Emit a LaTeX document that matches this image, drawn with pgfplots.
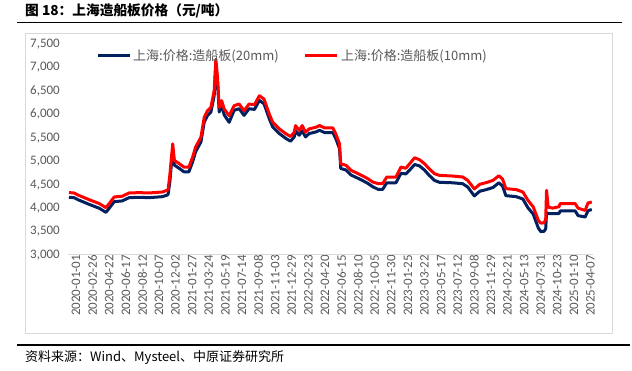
\documentclass[border=0pt]{standalone}
\usepackage{pgfplots}
\pgfplotsset{compat=1.18}
\usepackage{pgfplotstable}
\usepackage{fontspec}
\setmainfont{Carlito}
\newfontfamily\cjk{Noto Sans CJK SC}
\definecolor{navy}{HTML}{002060}
\definecolor{myred}{HTML}{FF0000}
\definecolor{txtgrey}{HTML}{595959}
\definecolor{framegrey}{HTML}{D9D9D9}

\pgfplotstableread{
idx val
0 4331
12 4323
23 4274
48 4182
73 4097
89 4010
97 4097
109 4238
128 4253
145 4323
169 4330
193 4323
225 4344
237 4380
239 4400
243 4700
250 5371
254 5017
266 4946
277 4875
289 4875
298 5087
305 5299
318 5512
326 5936
334 6078
342 6149
350 6503
354 7176
358 6786
362 6149
368 6291
374 6114
386 5972
398 6185
410 6220
422 6078
434 6220
447 6205
459 6397
470 6326
483 6000
491 5830
507 5690
523 5584
534 5527
543 5618
546 5760
555 5654
562 5760
570 5618
579 5690
595 5724
604 5760
616 5711
636 5711
643 5584
652 5371
655 4946
668 4911
680 4805
697 4734
713 4663
720 4628
732 4557
745 4522
756 4522
766 4663
788 4663
800 4875
812 4850
821 4946
833 5074
845 5031
857 4946
868 4840
881 4734
893 4698
925 4684
949 4663
961 4592
977 4410
990 4507
1006 4545
1022 4592
1036 4690
1045 4620
1053 4416
1078 4394
1094 4344
1106 4168
1119 4026
1131 3743
1137 3680
1145 3685
1149 3760
1151 4380
1155 4020
1166 4000
1181 4030
1184 4097
1220 4097
1227 4000
1244 3950
1251 4110
1260 4131
}\redtable

\pgfplotstableread{
idx val
0 4231
12 4223
23 4174
48 4082
73 3997
89 3910
97 3997
109 4138
128 4153
145 4223
169 4230
193 4223
225 4244
237 4280
239 4300
243 4550
250 5250
254 4917
266 4846
277 4775
289 4775
298 4987
305 5199
318 5412
326 5836
334 5978
342 6049
350 6403
354 7076
358 6686
362 6049
368 6191
374 5990
386 5830
398 6085
410 6120
422 5978
434 6120
447 6105
459 6297
470 6226
483 5900
491 5730
507 5590
523 5484
534 5427
543 5518
546 5640
555 5554
562 5650
570 5518
579 5590
595 5624
604 5660
616 5611
636 5611
643 5484
652 5271
655 4846
668 4811
680 4705
697 4634
713 4563
720 4528
732 4457
745 4400
756 4400
766 4540
788 4540
800 4740
812 4730
821 4810
833 4930
845 4900
857 4810
868 4700
881 4590
893 4550
925 4540
949 4520
961 4450
977 4260
990 4360
1006 4395
1022 4440
1036 4540
1045 4470
1053 4266
1078 4244
1094 4194
1106 4010
1119 3870
1131 3580
1137 3500
1145 3505
1149 3560
1151 3900
1155 3885
1181 3885
1184 3940
1220 3940
1227 3840
1244 3810
1251 3945
1260 3970
}\bluetable

\begin{document}
\begin{tikzpicture}
\useasboundingbox (0bp,0bp) rectangle (632bp,371bp);
\fill[white] (0bp,0bp) rectangle (632bp,371bp);
% title
\node[anchor=west, inner sep=0pt, font=\cjk\bfseries\fontsize{13.7bp}{15bp}\selectfont] at (25bp,360bp) {图 18：上海造船板价格（元/吨）};
\draw[black, line width=1.6bp] (17bp,348.5bp) -- (622bp,348.5bp);
% frame
\draw[framegrey, line width=0.8bp] (25bp,38bp) rectangle (612bp,338bp);
\begin{axis}[
  at={(68bp,116bp)}, anchor=south west,
  scale only axis, width=525bp, height=211bp,
  xmin=-2.4, xmax=1263, ymin=3000, ymax=7500,
  axis line style={draw=none},
  axis x line*=bottom, axis y line*=left,
  ytick={3000,3500,...,7500},
  xtick={0,40,...,1240},
  xticklabels={2020-01-01,2020-02-26,2020-04-22,2020-06-17,2020-08-12,2020-10-07,2020-12-02,2021-01-27,2021-03-24,2021-05-19,2021-07-14,2021-09-08,2021-11-03,2021-12-29,2022-02-23,2022-04-20,2022-06-15,2022-08-10,2022-10-05,2022-11-30,2023-01-25,2023-03-22,2023-05-17,2023-07-12,2023-09-08,2023-11-29,2024-02-21,2024-05-13,2024-07-31,2024-10-23,2025-01-10,2025-04-07},
  major tick length=0pt,
  tick style={draw=none},
  /pgf/number format/.cd, 1000 sep={,}, assume math mode=true, /pgfplots/.cd,
  yticklabel style={font=\fontsize{13bp}{14bp}\selectfont, text=txtgrey, inner sep=0pt, anchor=east, xshift=-8bp},
  xticklabel style={font=\fontsize{13bp}{14bp}\selectfont, text=txtgrey, inner sep=0pt, rotate=90, anchor=east, yshift=-7bp},
  clip=false,
]
\draw[framegrey, line width=1bp] (axis cs:-2.4,3000) -- (axis cs:1263,3000);
\addplot[navy, line width=3bp, line join=round] table[x=idx,y=val] {\bluetable};
\addplot[myred, line width=3bp, line join=round] table[x=idx,y=val] {\redtable};
\end{axis}
% legend
\draw[navy, line width=3bp] (98bp,315bp) -- (130bp,315bp);
\node[anchor=west, inner sep=0pt, text=txtgrey, font=\cjk\fontsize{13bp}{14bp}\selectfont] at (133bp,315bp) {上海:价格:造船板(20mm)};
\draw[myred, line width=3bp] (305bp,315bp) -- (337bp,315bp);
\node[anchor=west, inner sep=0pt, text=txtgrey, font=\cjk\fontsize{13bp}{14bp}\selectfont] at (341bp,315bp) {上海:价格:造船板(10mm)};
% bottom
\draw[black, line width=2bp] (17bp,26bp) -- (630bp,26bp);
\node[anchor=west, inner sep=0pt, font=\cjk\fontsize{13bp}{14bp}\selectfont] at (25bp,13bp) {资料来源：Wind、Mysteel、中原证券研究所};
\end{tikzpicture}
\end{document}
